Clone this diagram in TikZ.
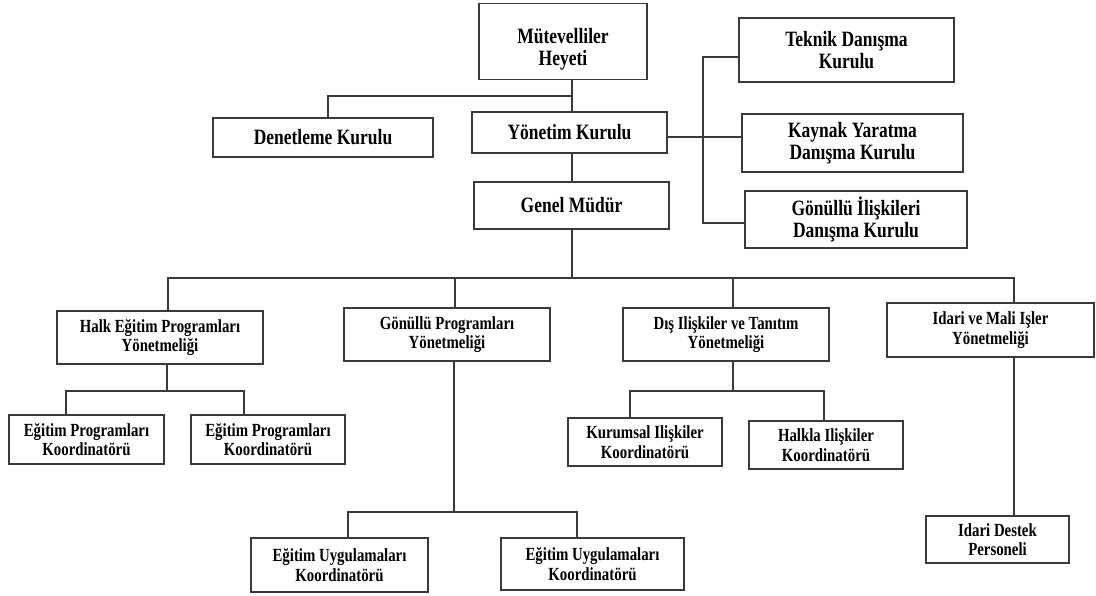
\documentclass[tikz,border=0pt]{standalone}
\usepackage{fontspec}
\usepackage{tikz}
\usepackage{xcolor}
\setmainfont{Liberation Serif}[FakeStretch=0.8]

\definecolor{inkgray}{HTML}{3A3A3A}

\begin{document}
\begin{tikzpicture}[
            x = 0.75pt, y = -0.75pt, % one unit is one pixel
            box/.style = {shape=rectangle, draw=inkgray, line width=1.1pt,
                          inner sep=0pt, align=center},
            topbox/.style = {box, font=\fontsize{16.4}{16.6}\selectfont\bfseries},
            lowbox/.style = {box, font=\fontsize{13.9}{14.6}\selectfont\bfseries},
            link/.style = {draw=inkgray, line width=0.9pt} % connector lines
        ]
\useasboundingbox (0,0) rectangle (1096,596);

% upper part
\node[topbox, minimum width=126pt, minimum height=57pt] (mut) at (563,41.5) {\rule{0pt}{23pt}Mütevelliler\\Heyeti};
\node[topbox, minimum width=165pt, minimum height=29.25pt] (den) at (323,137.5) {Denetleme Kurulu};
\node[topbox, minimum width=146.25pt, minimum height=30.75pt] (yon) at (569.5,132.5) {Yönetim Kurulu};
\node[topbox, minimum width=146.25pt, minimum height=35.25pt] (gm) at (571.5,205.5) {Genel Müdür};
\node[topbox, minimum width=161.25pt, minimum height=48pt] (tek) at (846.5,50) {Teknik Danışma\\Kurulu};
\node[topbox, minimum width=165.75pt, minimum height=43.5pt] (kay) at (852.5,143) {Kaynak Yaratma\\Danışma Kurulu};
\node[topbox, minimum width=166.5pt, minimum height=42.75pt] (gon) at (856,219.5) {Gönüllü İlişkileri\\Danışma Kurulu};

% directorates
\node[lowbox, minimum width=154.5pt, minimum height=39.75pt] (halk) at (160,337.5) {Halk Eğitim Programları\\Yönetmeliği};
\node[lowbox, minimum width=154.5pt, minimum height=39.75pt] (gpy) at (447,334.5) {Gönüllü Programları\\Yönetmeliği};
\node[lowbox, minimum width=154.5pt, minimum height=39.75pt] (dis) at (726,334.5) {Dış Ilişkiler ve Tanıtım\\Yönetmeliği};
\node[lowbox, minimum width=155.25pt, minimum height=40.5pt] (idr) at (990.5,330) {Idari ve Mali Işler\\Yönetmeliği};

% coordinators
\node[lowbox, minimum width=116.25pt, minimum height=36.75pt] (ep1) at (86.5,439.5) {Eğitim Programları\\Koordinatörü};
\node[lowbox, minimum width=115.5pt, minimum height=36.75pt] (ep2) at (268,439.5) {Eğitim Programları\\Koordinatörü};
\node[lowbox, minimum width=115.5pt, minimum height=36pt] (kur) at (645,442) {Kurumsal Ilişkiler\\Koordinatörü};
\node[lowbox, minimum width=115.5pt, minimum height=36pt] (hal) at (826,445) {Halkla Ilişkiler\\Koordinatörü};
\node[lowbox, minimum width=132.75pt, minimum height=40.5pt] (eu1) at (339.5,565) {Eğitim Uygulamaları\\Koordinatörü};
\node[lowbox, minimum width=137.25pt, minimum height=39pt] (eu2) at (592.5,564) {Eğitim Uygulamaları\\Koordinatörü};
\node[lowbox, minimum width=107.25pt, minimum height=35.25pt] (ids) at (997.5,539.5) {Idari Destek\\Personeli};

% junction points
\coordinate (spine) at (572,96);
\coordinate (dk) at (328,96);
\coordinate (adv) at (703,137);
\coordinate (advT) at (703,57);
\coordinate (advB) at (703,223);
\coordinate (busA) at (168,278);
\coordinate (busB) at (455,278);
\coordinate (busC) at (733,278);
\coordinate (busD) at (1014,278);
\coordinate (hk) at (167,391);
\coordinate (hkL) at (66,391);
\coordinate (hkR) at (244,391);
\coordinate (gp) at (454,512);
\coordinate (gpL) at (348,512);
\coordinate (gpR) at (577,512);
\coordinate (ds) at (733,391);
\coordinate (dsL) at (630,391);
\coordinate (dsR) at (824,391);

% top connectors
\draw[link] (mut.south -| spine) -- (yon.north -| spine);
\draw[link] (spine) -- (dk) -- (den.north -| dk);
\draw[link] (yon.south -| spine) -- (gm.north -| spine);
\draw[link] (yon.east |- adv) -- (kay.west |- adv);
\draw[link] (tek.west |- advT) -- (advT) -- (advB) -- (gon.west |- advB);

% main bus
\draw[link] (gm.south -| spine) -- (spine |- busA);
\draw[link] (halk.north -| busA) -- (busA) -- (busD) -- (idr.north -| busD);
\draw[link] (busB) -- (gpy.north -| busB);
\draw[link] (busC) -- (dis.north -| busC);

% lower connectors
\draw[link] (halk.south -| hk) -- (hk);
\draw[link] (ep1.north -| hkL) -- (hkL) -- (hkR) -- (ep2.north -| hkR);
\draw[link] (gpy.south -| gp) -- (gp);
\draw[link] (eu1.north -| gpL) -- (gpL) -- (gpR) -- (eu2.north -| gpR);
\draw[link] (dis.south -| ds) -- (ds);
\draw[link] (kur.north -| dsL) -- (dsL) -- (dsR) -- (hal.north -| dsR);
\draw[link] (idr.south -| busD) -- (ids.north -| busD);
\end{tikzpicture}
\end{document}
